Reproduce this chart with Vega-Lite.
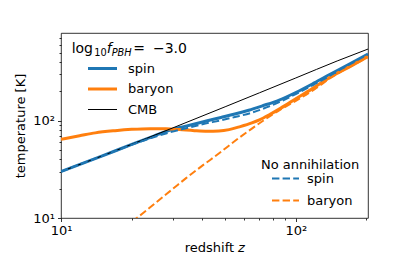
{
  "$schema": "https://vega.github.io/schema/vega-lite/v6.json",
  "width": 307,
  "height": 185,
  "autosize": "none",
  "padding": {"left": 61, "top": 33, "right": 41, "bottom": 55},
  "config": {
    "view": {"stroke": "black", "strokeWidth": 0.8},
    "font": "DejaVu Sans",
    "axis": {
      "grid": false,
      "domain": false,
      "labelFont": "DejaVu Sans",
      "labelFontSize": 13,
      "labelColor": "black",
      "titleFont": "DejaVu Sans",
      "titleFontSize": 13,
      "titleFontWeight": "normal",
      "titleColor": "black",
      "tickColor": "black",
      "tickWidth": 0.8
    },
    "legend": {
      "labelFont": "DejaVu Sans",
      "labelFontSize": 13,
      "labelColor": "black",
      "titleFont": "DejaVu Sans",
      "titleFontSize": 13,
      "titleFontWeight": "normal",
      "titleColor": "black",
      "symbolType": "stroke",
      "padding": 0
    }
  },
  "datasets": {
    "main": [
      {"series": "spin", "z": 10, "T": 30},
      {"series": "spin", "z": 15, "T": 43.5},
      {"series": "spin", "z": 20, "T": 57},
      {"series": "spin", "z": 25, "T": 70},
      {"series": "spin", "z": 28, "T": 77.5},
      {"series": "spin", "z": 32, "T": 85},
      {"series": "spin", "z": 36, "T": 91},
      {"series": "spin", "z": 42, "T": 100},
      {"series": "spin", "z": 48, "T": 108},
      {"series": "spin", "z": 55, "T": 117},
      {"series": "spin", "z": 63, "T": 128},
      {"series": "spin", "z": 72, "T": 142},
      {"series": "spin", "z": 85, "T": 163},
      {"series": "spin", "z": 100, "T": 195},
      {"series": "spin", "z": 120, "T": 245},
      {"series": "spin", "z": 140, "T": 300},
      {"series": "spin", "z": 170, "T": 385},
      {"series": "spin", "z": 203, "T": 485},
      {"series": "baryon", "z": 10, "T": 64.4},
      {"series": "baryon", "z": 12, "T": 70},
      {"series": "baryon", "z": 14, "T": 75},
      {"series": "baryon", "z": 17, "T": 79},
      {"series": "baryon", "z": 20, "T": 81.5},
      {"series": "baryon", "z": 24, "T": 82.8},
      {"series": "baryon", "z": 28, "T": 82.5},
      {"series": "baryon", "z": 32, "T": 81},
      {"series": "baryon", "z": 37, "T": 79},
      {"series": "baryon", "z": 42, "T": 78},
      {"series": "baryon", "z": 47, "T": 78.5},
      {"series": "baryon", "z": 52, "T": 81},
      {"series": "baryon", "z": 58, "T": 87},
      {"series": "baryon", "z": 65, "T": 95},
      {"series": "baryon", "z": 70, "T": 102},
      {"series": "baryon", "z": 78, "T": 117},
      {"series": "baryon", "z": 86, "T": 134},
      {"series": "baryon", "z": 100, "T": 168},
      {"series": "baryon", "z": 120, "T": 220},
      {"series": "baryon", "z": 140, "T": 280},
      {"series": "baryon", "z": 170, "T": 360},
      {"series": "baryon", "z": 203, "T": 458},
      {"series": "CMB", "z": 10, "T": 30.0},
      {"series": "CMB", "z": 15, "T": 43.6},
      {"series": "CMB", "z": 20, "T": 57.2},
      {"series": "CMB", "z": 30, "T": 84.5},
      {"series": "CMB", "z": 50, "T": 139},
      {"series": "CMB", "z": 70, "T": 193.5},
      {"series": "CMB", "z": 100, "T": 275},
      {"series": "CMB", "z": 150, "T": 411},
      {"series": "CMB", "z": 203, "T": 545}
    ],
    "noann": [
      {"series": "spin", "z": 10, "T": 30},
      {"series": "spin", "z": 15, "T": 43.5},
      {"series": "spin", "z": 20, "T": 56.5},
      {"series": "spin", "z": 24, "T": 66},
      {"series": "spin", "z": 28, "T": 74},
      {"series": "spin", "z": 33, "T": 82},
      {"series": "spin", "z": 40, "T": 92},
      {"series": "spin", "z": 48, "T": 101},
      {"series": "spin", "z": 55, "T": 109},
      {"series": "spin", "z": 65, "T": 121},
      {"series": "spin", "z": 75, "T": 137},
      {"series": "spin", "z": 88, "T": 161},
      {"series": "spin", "z": 100, "T": 188},
      {"series": "spin", "z": 120, "T": 237},
      {"series": "spin", "z": 140, "T": 290},
      {"series": "spin", "z": 170, "T": 380},
      {"series": "spin", "z": 203, "T": 480},
      {"series": "baryon", "z": 20, "T": 9.2},
      {"series": "baryon", "z": 21, "T": 10},
      {"series": "baryon", "z": 25, "T": 14},
      {"series": "baryon", "z": 30, "T": 20},
      {"series": "baryon", "z": 34.3, "T": 26},
      {"series": "baryon", "z": 40, "T": 34.5},
      {"series": "baryon", "z": 47, "T": 46},
      {"series": "baryon", "z": 57, "T": 66},
      {"series": "baryon", "z": 65, "T": 83},
      {"series": "baryon", "z": 72.6, "T": 100},
      {"series": "baryon", "z": 85, "T": 128},
      {"series": "baryon", "z": 100, "T": 160},
      {"series": "baryon", "z": 120, "T": 210},
      {"series": "baryon", "z": 140, "T": 273},
      {"series": "baryon", "z": 170, "T": 358},
      {"series": "baryon", "z": 203, "T": 450}
    ],
    "anno": [{"label": "title"}]
  },
  "layer": [
    {
      "data": {"name": "main"},
      "mark": {"type": "line", "clip": true, "interpolate": "monotone"},
      "encoding": {
        "x": {
          "field": "z", "type": "quantitative",
          "scale": {"type": "log", "domain": [10, 203], "nice": false},
          "axis": {
            "title": "redshift 𝘻",
            "values": [10, 20, 30, 40, 50, 60, 70, 80, 90, 100, 200],
            "labelExpr": "datum.value == 10 ? '10¹' : datum.value == 100 ? '10²' : ''",
            "tickSize": {"condition": {"test": "datum.value == 10 || datum.value == 100", "value": 3.5}, "value": 2},
            "labelPadding": 3,
            "titlePadding": 4,
            "labelFlush": false
          }
        },
        "y": {
          "field": "T", "type": "quantitative",
          "scale": {"type": "log", "domain": [10, 797], "nice": false},
          "axis": {
            "title": "temperature [K]",
            "values": [10, 20, 30, 40, 50, 60, 70, 80, 90, 100, 200, 300, 400, 500, 600, 700],
            "labelExpr": "datum.value == 10 ? '10¹' : datum.value == 100 ? '10²' : ''",
            "tickSize": {"condition": {"test": "datum.value == 10 || datum.value == 100", "value": 3.5}, "value": 2},
            "labelPadding": 3,
            "titlePadding": 5,
            "labelFlush": false
          }
        },
        "color": {
          "field": "series", "type": "nominal",
          "scale": {"domain": ["spin", "baryon", "CMB"], "range": ["#1f77b4", "#ff7f0e", "#000000"]},
          "legend": {
            "title": null, "orient": "none", "legendX": 35, "legendY": 29,
            "symbolSize": 841, "symbolStrokeWidth": 3, "rowPadding": 6.5, "labelOffset": 19,
            "encode": {"symbols": {"update": {"strokeWidth": {"signal": "datum.value === 'CMB' ? 1 : 3"}}}}
          }
        },
        "strokeWidth": {"condition": {"test": "datum.series === 'CMB'", "value": 1}, "value": 3}
      }
    },
    {
      "data": {"name": "noann"},
      "mark": {"type": "line", "clip": true, "interpolate": "monotone", "strokeDash": [7.4, 3.2], "strokeWidth": 2},
      "encoding": {
        "x": {"field": "z", "type": "quantitative"},
        "y": {"field": "T", "type": "quantitative"},
        "color": {
          "field": "series", "type": "nominal",
          "scale": {"domain": ["spin", "baryon"], "range": ["#1f77b4", "#ff7f0e"]},
          "legend": {
            "title": "No annihilation", "orient": "none", "legendX": 200, "legendY": 126,
            "symbolSize": 729, "symbolStrokeWidth": 2, "symbolDash": [7.4, 3.2],
            "rowPadding": -14, "titlePadding": -8, "labelOffset": 7, "symbolOffset": 10
          }
        }
      }
    },
    {
      "data": {"name": "anno"},
      "mark": {"type": "text", "align": "left", "baseline": "alphabetic", "fontSize": 14, "font": "DejaVu Sans", "color": "black"},
      "encoding": {"x": {"datum": 11.1}, "y": {"datum": 493}, "text": {"value": "log"}}
    },
    {
      "data": {"name": "anno"},
      "mark": {"type": "text", "align": "left", "baseline": "alphabetic", "fontSize": 9.8, "font": "DejaVu Sans", "color": "black", "dx": 22.6, "dy": 2.5},
      "encoding": {"x": {"datum": 11.1}, "y": {"datum": 493}, "text": {"value": "10"}}
    },
    {
      "data": {"name": "anno"},
      "mark": {"type": "text", "align": "left", "baseline": "alphabetic", "fontSize": 14, "fontStyle": "italic", "font": "DejaVu Sans", "color": "black", "dx": 35},
      "encoding": {"x": {"datum": 11.1}, "y": {"datum": 493}, "text": {"value": "f"}}
    },
    {
      "data": {"name": "anno"},
      "mark": {"type": "text", "align": "left", "baseline": "alphabetic", "fontSize": 9.8, "fontStyle": "italic", "font": "DejaVu Sans", "color": "black", "dx": 40, "dy": 2.5},
      "encoding": {"x": {"datum": 11.1}, "y": {"datum": 493}, "text": {"value": "PBH"}}
    },
    {
      "data": {"name": "anno"},
      "mark": {"type": "text", "align": "left", "baseline": "alphabetic", "fontSize": 14, "font": "DejaVu Sans", "color": "black", "dx": 61.6},
      "encoding": {"x": {"datum": 11.1}, "y": {"datum": 493}, "text": {"value": "="}}
    },
    {
      "data": {"name": "anno"},
      "mark": {"type": "text", "align": "left", "baseline": "alphabetic", "fontSize": 14, "font": "DejaVu Sans", "color": "black", "dx": 81.3},
      "encoding": {"x": {"datum": 11.1}, "y": {"datum": 493}, "text": {"value": "−3.0"}}
    }
  ],
  "resolve": {"scale": {"color": "independent"}, "legend": {"color": "independent"}}
}
